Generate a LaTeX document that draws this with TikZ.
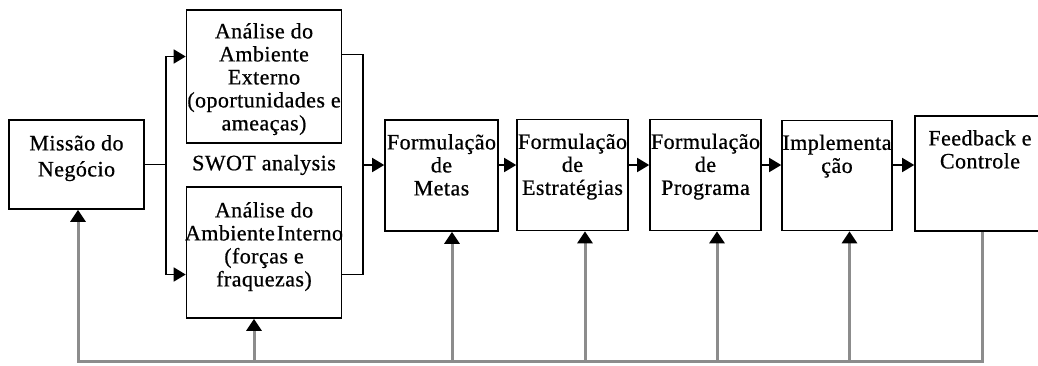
\documentclass[tikz,border=0pt]{standalone}
\usepackage{fontspec}
\setmainfont{Liberation Serif}[FakeBold=0.7,LetterSpace=2]
\usetikzlibrary{arrows.meta}
\newlength{\lwidth}
\setlength{\lwidth}{1.6pt}

\tikzset{
  bloco/.style={draw,line width=\lwidth,inner sep=0pt},
  texto/.style={anchor=north,align=center,inner sep=0pt,
                font=\fontsize{22}{23}\selectfont},
  seta/.style={line width=\lwidth,-{Triangle[length=12pt,width=14pt]}},
  retorno/.style={line width=3pt,black!45},
  setaret/.style={retorno,-{Triangle[length=12pt,width=15pt,color=black]}},
}

\begin{document}
\begin{tikzpicture}[x=1pt,y=-1pt]
  \useasboundingbox (0,0) rectangle (1038,365);
  \clip (0,0) rectangle (1038,365);

  %% boxes
  %% ------------------------------------
  \node[bloco,minimum width=135,minimum height=89]  (missao) at (76.5,164.5) {};
  \node[bloco,minimum width=155,minimum height=133] (externo) at (264,76.5) {};
  \node[bloco,minimum width=155,minimum height=131] (interno) at (264,252.5) {};
  \node[bloco,minimum width=113,minimum height=111] (metas) at (441.5,175.5) {};
  \node[bloco,minimum width=111,minimum height=111] (estrat) at (572.5,175) {};
  \node[bloco,minimum width=111,minimum height=111] (progr) at (705.5,175) {};
  \node[bloco,minimum width=110,minimum height=110] (implem) at (837,175.5) {};
  \node[bloco,minimum width=130,minimum height=115] (feedb) at (980,173.5) {};

  %% texts
  %% ------------------------------------
  \node[texto] (missaoT) at ([yshift=-10pt]missao.north)
       {\rule{0pt}{21pt}Missão do\\[3pt]Negócio};
  \node[texto] (externoT) at ([yshift=-8pt]externo.north)
       {\rule{0pt}{21pt}Análise do\\Ambiente\\Externo\\(oportunidades e\\ameaças)};
  \node[texto] (internoT) at ([yshift=-10pt]interno.north)
       {\rule{0pt}{21pt}Análise do\\{\spaceskip=2pt Ambiente Interno}\\(forças e\\fraquezas)};
  \node[texto] (metasT) at ([yshift=-9pt]metas.north) {\rule{0pt}{21pt}Formulação\\de\\Metas};
  \node[texto] (estratT) at ([yshift=-9pt]estrat.north) {\rule{0pt}{21pt}Formulação\\de\\Estratégias};
  \node[texto] (progrT) at ([yshift=-9pt]progr.north) {\rule{0pt}{21pt}Formulação\\de\\Programa};
  \node[texto] (implemT) at ([yshift=-9pt]implem.north) {\rule{0pt}{21pt}Implementa\\ção};
  \node[texto] (feedbT) at ([yshift=-9pt]feedb.north) {\rule{0pt}{21pt}Feedback e\\Controle};
  \node[texto,anchor=center] (swot) at (264,165) {SWOT analysis};

  %% forward flow
  %% ------------------------------------
  \coordinate (split) at ([xshift=21pt]missao.east);
  \coordinate (junta) at (363,165);
  \draw[line width=\lwidth] (missao.east) -- (split);
  \draw[seta] (split) |- ([yshift=20pt]externo.west);
  \draw[seta] (split) |- ([yshift=-22pt]interno.west);
  \draw[line width=\lwidth] ([yshift=22pt]externo.east) -| (junta);
  \draw[line width=\lwidth] ([yshift=-22pt]interno.east) -| (junta);
  \draw[seta] (junta) -- (metas.west |- junta);
  \foreach \a/\b in {metas/estrat,estrat/progr,progr/implem,implem/feedb}
    \draw[seta] (\a.east |- junta) -- (\b.west |- junta);

  %% feedback
  %% ------------------------------------
  \coordinate (barra) at (0,361);
  \coordinate (fbsai) at ([xshift=2pt]feedb.south);
  \coordinate (msent) at ([xshift=1.5pt]missao.south);
  \draw[setaret] (fbsai) |- (msent |- barra) -- (msent);
  \foreach \b/\dx in {interno/-10,metas/10.5,estrat/12.5,progr/11.5,implem/12.5}{
    \coordinate (t) at ([xshift=\dx pt]\b.south);
    \draw[setaret] (t |- barra) -- (t);
  }

\end{tikzpicture}
\end{document}
